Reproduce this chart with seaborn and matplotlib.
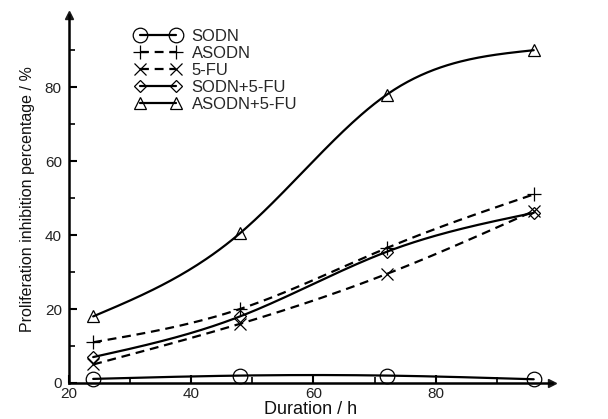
import numpy as np
import pandas as pd
import matplotlib
matplotlib.use("Agg")
import matplotlib.pyplot as plt
from matplotlib.lines import Line2D
from matplotlib.ticker import MultipleLocator
import seaborn as sns

# data
hours = [24, 48, 72, 96]
groups = ["SODN", "ASODN", "5-FU", "SODN+5-FU", "ASODN+5-FU"]
sodn = [1.1, 2.0, 2.0, 1.0]
asodn = [11.0, 20.0, 36.5, 51.0]
fu = [5.0, 16.0, 29.5, 46.5]
sodn_fu = [7.0, 18.0, 35.5, 46.0]
asodn_fu = [18.0, 40.5, 78.0, 90.0]

series = [sodn, asodn, fu, sodn_fu, asodn_fu]
markers = ["o", "+", "x", "D", "^"]
msizes = [10.5, 10, 9, 6.5, 9]
dashes = ["-", (0, (4, 2.6)), (0, (4, 2.6)), "-", "-"]


def natural_spline(x, y, n=200):
    """Natural cubic spline through the measured points, for the smooth curves."""
    x = np.asarray(x, float)
    y = np.asarray(y, float)
    k = len(x)
    h = np.diff(x)
    A = np.zeros((k, k))
    b = np.zeros(k)
    A[0, 0] = A[-1, -1] = 1
    for i in range(1, k - 1):
        A[i, i - 1] = h[i - 1]
        A[i, i] = 2 * (h[i - 1] + h[i])
        A[i, i + 1] = h[i]
        b[i] = 6 * ((y[i + 1] - y[i]) / h[i] - (y[i] - y[i - 1]) / h[i - 1])
    M = np.linalg.solve(A, b)
    xs = np.linspace(x[0], x[-1], n)
    idx = np.clip(np.searchsorted(x, xs) - 1, 0, k - 2)
    x0, x1 = x[idx], x[idx + 1]
    hh = x1 - x0
    t0, t1 = x1 - xs, xs - x0
    ys = (M[idx] * t0 ** 3 + M[idx + 1] * t1 ** 3) / (6 * hh) \
        + (y[idx] / hh - M[idx] * hh / 6) * t0 + (y[idx + 1] / hh - M[idx + 1] * hh / 6) * t1
    return xs, ys


sns.set_theme(style="white")
plt.rcParams["font.family"] = ["Liberation Sans", "DejaVu Sans"]

fig = plt.figure(figsize=(6.08, 4.19), dpi=100)
ax = fig.add_axes([0.113, 0.086, 0.795, 0.878])

handles = []
for name, vals, mk, ms, ls in zip(groups, series, markers, msizes, dashes):
    xs, ys = natural_spline(hours, vals)
    curve = pd.DataFrame({"x": xs, "y": ys})
    sns.lineplot(data=curve, x="x", y="y", ax=ax, color="black", lw=1.6,
                 linestyle=ls, sort=False)
    ax.plot(hours, vals, linestyle="none", marker=mk, ms=ms, mfc="none",
            mec="black", mew=0.9, zorder=3, clip_on=False)
    handles.append(Line2D([], [], color="black", lw=1.6, linestyle=ls, marker=mk, ms=ms,
                          mfc="none", mec="black", mew=0.9))

ax.set_xlim(20, 99)
ax.set_ylim(0, 99.5)
ax.xaxis.set_major_locator(MultipleLocator(20))
ax.xaxis.set_minor_locator(MultipleLocator(10))
ax.yaxis.set_major_locator(MultipleLocator(20))
ax.yaxis.set_minor_locator(MultipleLocator(10))
ax.set_yticks([0, 20, 40, 60, 80])

for side in ["top", "right"]:
    ax.spines[side].set_visible(False)
for side in ["left", "bottom"]:
    ax.spines[side].set_linewidth(1.8)
    ax.spines[side].set_color("black")

ax.tick_params(which="major", direction="in", length=6, width=1.5, labelsize=11,
               colors="black", labelcolor="#222222", pad=5)
ax.tick_params(which="minor", direction="in", length=4, width=1.2, colors="black")
ax.tick_params(axis="y", which="both", left=True)
ax.tick_params(axis="x", which="both", bottom=True)
ax.tick_params(axis="x", which="major", pad=3)

# axis arrows
ax.plot(1, 0, ">k", ms=6, transform=ax.transAxes, clip_on=False)
ax.plot(0, 1, "^k", ms=6, transform=ax.transAxes, clip_on=False)

ax.set_xlabel("Duration / h", fontsize=13, labelpad=0, color="#111111")
ax.set_ylabel("Proliferation inhibition percentage / %", fontsize=11.5, labelpad=7, color="#111111")

ax.legend(handles, groups, loc="upper left", bbox_to_anchor=(0.137, 0.962), frameon=False,
          numpoints=2, handlelength=2.75, handletextpad=0.65, labelspacing=0.12, fontsize=12,
          borderpad=0, borderaxespad=0)

fig.savefig("out.png", dpi=100)
